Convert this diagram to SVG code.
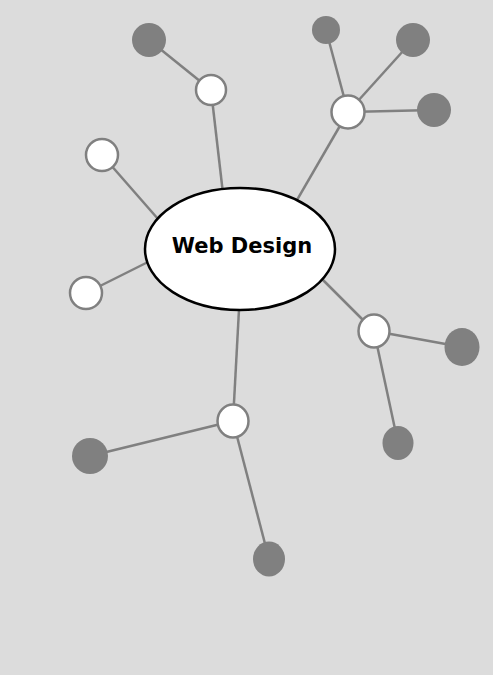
<svg xmlns="http://www.w3.org/2000/svg" width="493" height="675" viewBox="0 0 493 675">
<style>
.bg{fill:#dcdcdc}
.ln{stroke:#808080;stroke-width:2.5;fill:none}
.sub{fill:#ffffff;stroke:#808080;stroke-width:2.5}
.leaf{fill:#808080}
.root{fill:#ffffff;stroke:#000000;stroke-width:2.5}
.lbl{font-family:"DejaVu Sans","Liberation Sans",sans-serif;font-weight:bold;font-size:21px;fill:#000000;text-anchor:middle}
</style>
<rect class="bg" x="0" y="0" width="493" height="675"/>
<g id="connectors">
<line class="ln" x1="211" y1="90" x2="223.5" y2="198"/>
<line class="ln" x1="102" y1="155" x2="164.6" y2="226.5"/>
<line class="ln" x1="86" y1="293" x2="155" y2="258.5"/>
<line class="ln" x1="348" y1="112" x2="292" y2="208.6"/>
<line class="ln" x1="374" y1="331" x2="315" y2="272"/>
<line class="ln" x1="233" y1="421" x2="239.5" y2="300"/>
<line class="ln" x1="211" y1="90" x2="149" y2="40"/>
<line class="ln" x1="348" y1="112" x2="326" y2="30"/>
<line class="ln" x1="348" y1="112" x2="413" y2="40"/>
<line class="ln" x1="348" y1="112" x2="434" y2="110"/>
<line class="ln" x1="374" y1="331" x2="462" y2="347"/>
<line class="ln" x1="374" y1="331" x2="398" y2="443"/>
<line class="ln" x1="233" y1="421" x2="90" y2="456"/>
<line class="ln" x1="233" y1="421" x2="269" y2="559"/>
</g>
<g id="root"><ellipse class="root" cx="240" cy="249" rx="95" ry="61"/><text class="lbl" x="242" y="253">Web Design</text></g>
<g id="nodeA"><circle class="sub" cx="211" cy="90" r="15"/></g>
<g id="nodeB"><circle class="sub" cx="102" cy="155" r="16"/></g>
<g id="nodeC"><circle class="sub" cx="86" cy="293" r="16"/></g>
<g id="nodeD"><circle class="sub" cx="348" cy="112" r="16.5"/></g>
<g id="nodeE"><ellipse class="sub" cx="374" cy="331" rx="15.5" ry="16.5"/></g>
<g id="nodeF"><ellipse class="sub" cx="233" cy="421" rx="15.5" ry="16.5"/></g>
<g id="leafA1"><circle class="leaf" cx="149" cy="40" r="17"/></g>
<g id="leafD1"><circle class="leaf" cx="326" cy="30" r="14"/></g>
<g id="leafD2"><circle class="leaf" cx="413" cy="40" r="17"/></g>
<g id="leafD3"><circle class="leaf" cx="434" cy="110" r="17"/></g>
<g id="leafE1"><ellipse class="leaf" cx="462" cy="347" rx="17.5" ry="19"/></g>
<g id="leafE2"><ellipse class="leaf" cx="398" cy="443" rx="15.5" ry="17"/></g>
<g id="leafF1"><circle class="leaf" cx="90" cy="456" r="18"/></g>
<g id="leafF2"><ellipse class="leaf" cx="269" cy="559" rx="16" ry="17.5"/></g>
</svg>
